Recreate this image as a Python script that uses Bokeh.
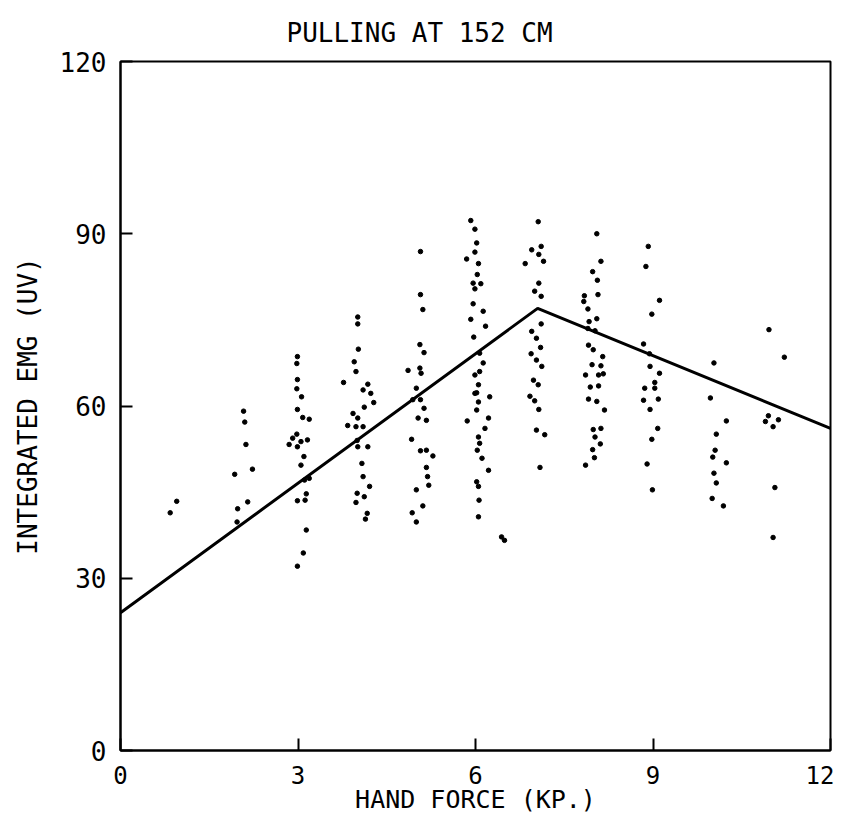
from bokeh.plotting import figure
from bokeh.embed import file_html
from bokeh.resources import INLINE
from bokeh.models import Range1d, FixedTicker

# ---- data ----
x_c1 = [0.84, 0.95]
y_c1 = [41.4, 43.4]
x_c2 = [2.08, 2.10, 2.12, 2.23, 1.93, 2.15, 1.98, 1.97]
y_c2 = [59.1, 57.2, 53.3, 49.0, 48.1, 43.3, 42.1, 39.8]
x_c3 = [2.99, 2.98, 2.99, 2.98, 3.06, 2.99, 3.08, 3.19, 2.98, 2.91, 2.85, 3.05,
        3.16, 2.99, 3.10, 3.05, 3.11, 3.19, 2.99, 3.12, 3.14, 3.14, 3.09, 2.99]
y_c3 = [68.6, 67.4, 64.6, 63.0, 61.6, 59.4, 58.0, 57.7, 55.1, 54.4, 53.3, 53.8,
        54.1, 52.9, 51.2, 49.7, 47.1, 47.4, 43.5, 43.6, 44.7, 38.4, 34.4, 32.1]
x_c4 = [4.01, 4.01, 4.02, 3.95, 3.98, 3.77, 4.18, 4.10, 4.23, 4.28, 4.12, 3.93, 4.01,
        3.84, 3.98, 4.10, 4.01, 4.18, 4.08, 4.10, 4.21, 4.00, 4.12, 3.98, 4.17, 4.14, 4.00]
y_c4 = [75.5, 74.3, 69.9, 67.7, 66.0, 64.1, 63.8, 62.8, 62.2, 60.6, 59.8, 58.7, 57.9,
        56.6, 56.4, 56.4, 52.9, 52.9, 50.0, 47.7, 46.0, 44.8, 44.2, 43.2, 41.3, 40.3, 54.0]
x_c5 = [5.07, 5.07, 5.11, 5.06, 5.13, 4.86, 5.06, 5.08, 5.00, 5.07, 4.94, 5.13, 5.03,
        5.17, 4.92, 5.07, 5.17, 5.28, 5.17, 5.19, 5.21, 5.00, 5.11, 4.93, 5.00]
y_c5 = [86.9, 79.4, 76.8, 70.7, 69.3, 66.2, 66.6, 65.7, 63.1, 61.1, 61.1, 59.6, 57.9,
        57.5, 54.2, 52.2, 52.3, 51.3, 49.3, 47.7, 46.2, 45.4, 42.6, 41.4, 39.8]
x_c6 = [5.92, 5.99, 6.02, 5.99, 5.85, 6.05, 6.03, 5.96, 6.09, 5.99, 5.96, 6.13, 5.92,
        6.17, 5.97, 6.07, 6.13, 6.07, 5.99, 6.05, 5.99, 6.02, 6.24, 6.05, 6.02, 5.86,
        6.22, 6.16, 6.05, 6.07, 6.03, 6.11, 6.22, 6.02, 6.05, 6.06, 6.05, 6.44, 6.49]
y_c6 = [92.3, 90.8, 88.4, 86.8, 85.6, 84.8, 82.9, 81.4, 81.3, 80.4, 77.8, 76.5, 75.1,
        73.9, 72.0, 69.2, 67.5, 66.0, 65.4, 63.7, 62.2, 62.3, 61.6, 60.7, 59.3, 57.4,
        57.9, 56.1, 54.6, 53.5, 52.3, 50.9, 48.8, 46.8, 46.0, 43.6, 40.7, 37.2, 36.6]
x_c7 = [7.06, 6.95, 7.11, 7.07, 6.84, 7.15, 7.07, 7.00, 7.11, 7.11, 6.95, 7.03,
        7.10, 6.94, 7.03, 7.12, 6.98, 7.06, 6.92, 7.00, 7.07, 7.03, 7.17, 7.09]
y_c7 = [92.1, 87.2, 87.8, 86.4, 84.8, 85.2, 81.4, 80.0, 79.1, 74.3, 73.0, 71.8,
        70.2, 69.1, 68.0, 66.9, 64.5, 63.7, 61.7, 60.9, 59.4, 55.8, 55.0, 49.3]
x_c8 = [8.05, 8.12, 7.98, 8.06, 8.07, 7.84, 7.83, 7.90, 7.92, 8.05, 7.90, 8.02, 7.91,
        7.99, 8.15, 7.97, 8.12, 7.86, 8.08, 8.16, 7.94, 8.08, 7.91, 8.05, 8.18, 7.99,
        8.12, 8.02, 8.11, 7.98, 8.01, 7.86]
y_c8 = [90.0, 85.2, 83.4, 81.9, 79.4, 79.2, 78.2, 76.9, 74.7, 75.2, 73.5, 73.1, 70.6,
        69.8, 68.6, 67.2, 67.0, 65.4, 65.4, 65.6, 63.3, 63.5, 61.2, 60.8, 59.3, 55.9,
        56.1, 54.6, 53.4, 52.4, 51.0, 49.7]
x_c9 = [8.92, 8.88, 9.11, 8.98, 8.84, 8.94, 8.95, 9.11, 9.03, 9.03, 8.86, 8.84,
        9.09, 8.95, 9.08, 8.98, 8.90, 8.99]
y_c9 = [87.8, 84.3, 78.4, 76.0, 70.8, 69.1, 66.9, 65.7, 64.1, 63.1, 63.1, 61.0,
        61.2, 59.4, 56.1, 54.2, 49.9, 45.4]
x_c10 = [10.03, 9.97, 10.24, 10.07, 10.05, 10.01, 10.24, 10.03, 10.07, 10.00, 10.19]
y_c10 = [67.5, 61.4, 57.4, 55.1, 52.3, 51.1, 50.1, 48.3, 46.6, 43.9, 42.6]
x_c11 = [10.96, 11.22, 10.95, 10.90, 11.12, 11.03, 11.06, 11.03]
y_c11 = [73.3, 68.5, 58.3, 57.3, 57.6, 56.4, 45.8, 37.1]

fit_x = [0.0, 7.05, 12.0]
fit_y = [24.0, 77.0, 56.1]

x_ticks = [0, 3, 6, 9, 12]
y_ticks = [0, 30, 60, 90, 120]

title_text = "PULLING AT 152 CM"
x_label = "HAND FORCE (KP.)"
y_label = "INTEGRATED EMG (UV)"

pts_x = x_c1 + x_c2 + x_c3 + x_c4 + x_c5 + x_c6 + x_c7 + x_c8 + x_c9 + x_c10 + x_c11
pts_y = y_c1 + y_c2 + y_c3 + y_c4 + y_c5 + y_c6 + y_c7 + y_c8 + y_c9 + y_c10 + y_c11

FONT = "DejaVu Sans Mono"

p = figure(width=834, height=816, output_backend="svg", toolbar_location=None,
           x_range=Range1d(0, 12), y_range=Range1d(0, 120),
           min_border_left=120, min_border_right=4, min_border_top=61,
           min_border_bottom=66, title=title_text)

p.background_fill_color = "white"
p.border_fill_color = "white"
p.outline_line_color = "black"
p.outline_line_width = 2
p.xgrid.visible = False
p.ygrid.visible = False

p.title.text_font = FONT
p.title.text_font_size = "26px"
p.title.text_font_style = "normal"
p.title.text_color = "black"
p.title.align = "left"
p.title.offset = 166
p.title.standoff = 28

for ax, ticks in ((p.xaxis[0], x_ticks), (p.yaxis[0], y_ticks)):
    ax.ticker = FixedTicker(ticks=ticks)
    ax.minor_tick_line_color = None
    ax.major_tick_in = 12
    ax.major_tick_out = 0
    ax.major_tick_line_width = 2
    ax.axis_line_width = 2
    ax.major_label_text_font = FONT
    ax.major_label_text_color = "black"
    ax.axis_label_text_font = FONT
    ax.axis_label_text_font_style = "normal"
    ax.axis_label_text_color = "black"

p.yaxis[0].major_label_text_font_size = "26px"
p.yaxis[0].axis_label_text_font_size = "26px"
p.xaxis[0].major_label_text_font_size = "24px"
p.xaxis[0].axis_label_text_font_size = "25px"

p.xaxis[0].axis_label = x_label
p.yaxis[0].axis_label = y_label
p.xaxis[0].major_label_standoff = 15
p.xaxis[0].axis_label_standoff = -2
p.yaxis[0].major_label_standoff = 14
p.yaxis[0].axis_label_standoff = 14

p.line(fit_x, fit_y, line_color="black", line_width=3)
p.scatter(pts_x, pts_y, size=4.5, marker="circle", fill_color="black", line_color="black")

open("out.html", "w").write(file_html(p, INLINE))
